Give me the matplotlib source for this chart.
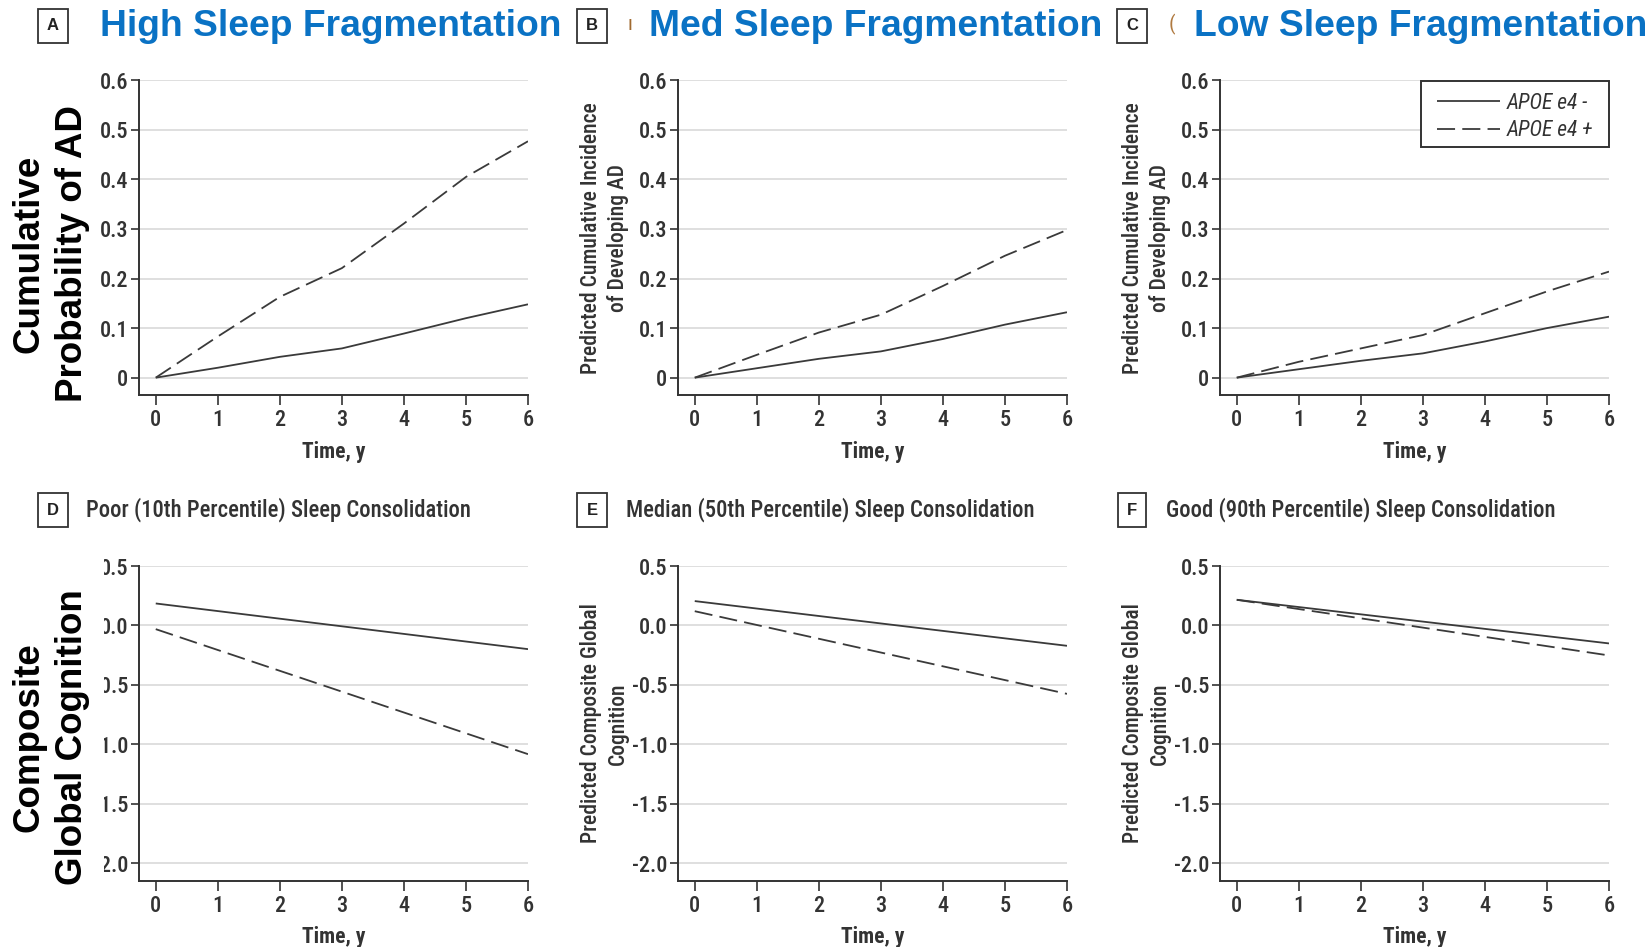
import matplotlib.pyplot as plt
from matplotlib import font_manager
from matplotlib.font_manager import FontProperties
from matplotlib.patches import Rectangle

# Follow-up years shared by every panel
years = [0, 1, 2, 3, 4, 5, 6]

# Cumulative incidence of AD (top row), APOE e4 carriers vs non-carriers
ad_high_neg = [0, 0.020, 0.042, 0.059, 0.089, 0.120, 0.148]
ad_high_pos = [0, 0.083, 0.163, 0.221, 0.311, 0.405, 0.477]
ad_med_neg = [0, 0.019, 0.038, 0.053, 0.078, 0.107, 0.132]
ad_med_pos = [0, 0.046, 0.091, 0.127, 0.185, 0.246, 0.298]
ad_low_neg = [0, 0.017, 0.034, 0.049, 0.073, 0.100, 0.123]
ad_low_pos = [0, 0.032, 0.059, 0.086, 0.130, 0.174, 0.214]

# Composite global cognition (bottom row), linear trajectories
cog_years = [0, 6]
cog_poor_neg = [0.185, -0.199]
cog_poor_pos = [-0.031, -1.082]
cog_med_neg = [0.205, -0.171]
cog_med_pos = [0.120, -0.575]
cog_good_neg = [0.216, -0.151]
cog_good_pos = [0.216, -0.252]

top_titles = ["High Sleep Fragmentation", "Med Sleep Fragmentation", "Low Sleep Fragmentation"]
bottom_titles = ["Poor (10th Percentile) Sleep Consolidation",
                 "Median (50th Percentile) Sleep Consolidation",
                 "Good (90th Percentile) Sleep Consolidation"]
panel_letters = ["A", "B", "C", "D", "E", "F"]
legend_labels = ["APOE e4 -", "APOE e4 +"]

ad_ticks = [0, 0.1, 0.2, 0.3, 0.4, 0.5, 0.6]
ad_ticklabels = ["0", "0.1", "0.2", "0.3", "0.4", "0.5", "0.6"]
cog_ticks = [0.5, 0.0, -0.5, -1.0, -1.5, -2.0]
cog_ticklabels = ["0.5", "0.0", "-0.5", "-1.0", "-1.5", "-2.0"]


def find_narrow():
    """Pick a condensed sans face (regular, medium, bold, italic files) if one is installed."""
    fl = font_manager.fontManager.ttflist
    def is_narrow(f):
        n = f.name.lower()
        return ("narrow" in n or "condensed" in n or
                f.stretch in ("condensed", "semi-condensed", "extra-condensed"))
    cands = [f for f in fl if is_narrow(f)]
    pref = ["liberation sans narrow", "roboto condensed", "open sans condensed",
            "noto sans", "dejavu sans", "arial narrow"]
    def rank(f):
        n = f.name.lower()
        for i, p in enumerate(pref):
            if n.startswith(p):
                return i
        return len(pref)
    cands.sort(key=lambda f: (rank(f), str(f.stretch) != "semi-condensed"))
    if not cands:
        return None
    name, stretch = cands[0].name, cands[0].stretch
    fam = [f for f in cands if f.name == name and f.stretch == stretch]
    def wt(f):
        if isinstance(f.weight, int):
            return f.weight
        return {"bold": 700, "medium": 500, "semibold": 600, "light": 300}.get(str(f.weight), 400)
    def pick(target, styles):
        best = None
        for f in fam:
            if f.style in styles:
                d = abs(wt(f) - target)
                if best is None or d < best[0]:
                    best = (d, f.fname)
        return best[1] if best else None
    return {"regular": pick(400, ("normal",)),
            "medium": pick(500, ("normal",)),
            "bold": pick(700, ("normal",)),
            "italic": pick(400, ("italic", "oblique"))}


narrow_files = find_narrow()


def nfont(size, kind="regular"):
    if narrow_files and narrow_files.get(kind):
        return FontProperties(fname=narrow_files[kind], size=size)
    style = "italic" if kind == "italic" else "normal"
    weight = "bold" if kind == "bold" else "normal"
    return FontProperties(family="DejaVu Sans", size=size * 0.85, style=style, weight=weight)


arial = "Liberation Sans"

W, H = 1649, 947
fig = plt.figure(figsize=(W / 100, H / 100), dpi=100)

INK = "#333333"
BLUE = "#0A72C4"
col_left = [139, 678, 1220]
ax_w = 389
row_top = [80.3, 566]
ax_h = 314.7


def make_axes(px_left, px_top):
    return fig.add_axes([px_left / W, 1 - (px_top + ax_h) / H, ax_w / W, ax_h / H])


def style_axes(ax, ticks, ticklabels, ylim, ylabel):
    ax.set_xlim(-0.27, 6)
    ax.set_ylim(*ylim)
    ax.set_xticks(years)
    ax.set_yticks(ticks)
    ax.set_yticklabels(ticklabels)
    for s in ["top", "right"]:
        ax.spines[s].set_visible(False)
    for s in ["left", "bottom"]:
        ax.spines[s].set_color(INK)
        ax.spines[s].set_linewidth(1.4)
    ax.tick_params(axis="y", length=6, width=1.2, color=INK, pad=2, labelcolor=INK)
    ax.tick_params(axis="x", length=7, width=1.2, color=INK, pad=3, labelcolor=INK)
    for lab in ax.get_yticklabels():
        lab.set_fontproperties(nfont(16, "medium"))
    for lab in ax.get_xticklabels():
        lab.set_fontproperties(nfont(16, "medium"))
    ax.yaxis.grid(True, color="#dcdcdc", lw=1.3)
    ax.set_axisbelow(True)
    ax.set_xlabel("Time, y", fontproperties=nfont(15.5, "bold"), color=INK, labelpad=7)
    if ylabel:
        ax.set_ylabel(ylabel, fontproperties=nfont(15.5, "medium"), color=INK,
                      linespacing=1.3, va="center")
        ax.yaxis.set_label_coords(-73.5 / ax_w, 0.5)


def draw_pair(ax, x, neg, pos):
    ax.plot(x, neg, color="#3a3a3a", lw=1.3, solid_capstyle="butt")
    ax.plot(x, pos, color="#3a3a3a", lw=1.3, dashes=(10, 4))


top_data = [(ad_high_neg, ad_high_pos), (ad_med_neg, ad_med_pos), (ad_low_neg, ad_low_pos)]
bottom_data = [(cog_poor_neg, cog_poor_pos), (cog_med_neg, cog_med_pos), (cog_good_neg, cog_good_pos)]

top_axes = []
for i, (neg, pos) in enumerate(top_data):
    ax = make_axes(col_left[i], row_top[0])
    draw_pair(ax, years, neg, pos)
    style_axes(ax, ad_ticks, ad_ticklabels, (-0.035, 0.6),
               None if i == 0 else "Predicted Cumulative Incidence\nof Developing AD")
    top_axes.append(ax)

for i, (neg, pos) in enumerate(bottom_data):
    ax = make_axes(col_left[i], row_top[1])
    draw_pair(ax, cog_years, neg, pos)
    style_axes(ax, cog_ticks, cog_ticklabels, (-2.146, 0.5),
               None if i == 0 else "Predicted Composite Global\nCognition")

# legend in panel C: entries centred in a wider square frame drawn separately
leg_box = (1421, 81, 1609, 147)
leg = top_axes[2].legend(legend_labels, loc="center", frameon=False,
                         bbox_to_anchor=((leg_box[0] + leg_box[2]) / 2 / W,
                                         1 - ((leg_box[1] + leg_box[3]) / 2 + 3) / H),
                         bbox_transform=fig.transFigure, handlelength=2.9, handletextpad=0.3,
                         borderpad=0, labelspacing=0.32, prop=nfont(15.5, "italic"))
for t in leg.get_texts():
    t.set_color(INK)
top_axes[2].add_patch(Rectangle((leg_box[0] / W, 1 - leg_box[3] / H),
                                (leg_box[2] - leg_box[0]) / W, (leg_box[3] - leg_box[1]) / H,
                                transform=fig.transFigure, fc="white", ec=INK, lw=1.4,
                                zorder=4, clip_on=False))
leg.set_zorder(5)

# panel letter boxes
letter_x = [53, 592, 1132]
for i, letter in enumerate(panel_letters):
    y = 26 if i < 3 else 510
    fig.text(letter_x[i % 3] / W, 1 - y / H, letter, ha="center", va="center",
             family=arial, fontsize=12, fontweight="bold", color="#222222",
             bbox=dict(boxstyle="square,pad=0.55", fc="white", ec=INK, lw=1.3))

# leftover marks of the original panel headings
fig.text(628 / W, 1 - 24 / H, "ı", fontproperties=nfont(15), color="#a06a30", va="center")
fig.text(1169 / W, 1 - 24 / H, "(", fontproperties=nfont(15), color="#b07a40", va="center")

# top row headings
title_x = [100, 649, 1194]
for i, t in enumerate(top_titles):
    fig.text(title_x[i] / W, 1 - 26 / H, t, ha="left", va="center", family=arial,
             fontsize=26.8, fontweight="bold", color=BLUE)

# bottom row headings
sub_x = [86, 626, 1166]
for i, t in enumerate(bottom_titles):
    fig.text(sub_x[i] / W, 1 - 510 / H, t, ha="left", va="center",
             fontproperties=nfont(16.3, "medium"), color=INK)

# row labels on the left, with a white backing over the first column's tick labels
fig.add_artist(Rectangle((0, 1 - 905 / H), 104 / W, (905 - 552) / H,
                         transform=fig.transFigure, fc="white", ec="none", zorder=1))
fig.text(51 / W, 1 - 254 / H, "Cumulative\nProbability of AD", rotation=90, ha="center",
         va="center", family=arial, fontsize=26.5, fontweight="bold", color="black",
         linespacing=1.3, zorder=3)
fig.text(51 / W, 1 - 737 / H, "Composite\nGlobal Cognition", rotation=90, ha="center",
         va="center", family=arial, fontsize=26.5, fontweight="bold", color="black",
         linespacing=1.3, zorder=3)

fig.savefig("out.png", dpi=100, facecolor="white")
